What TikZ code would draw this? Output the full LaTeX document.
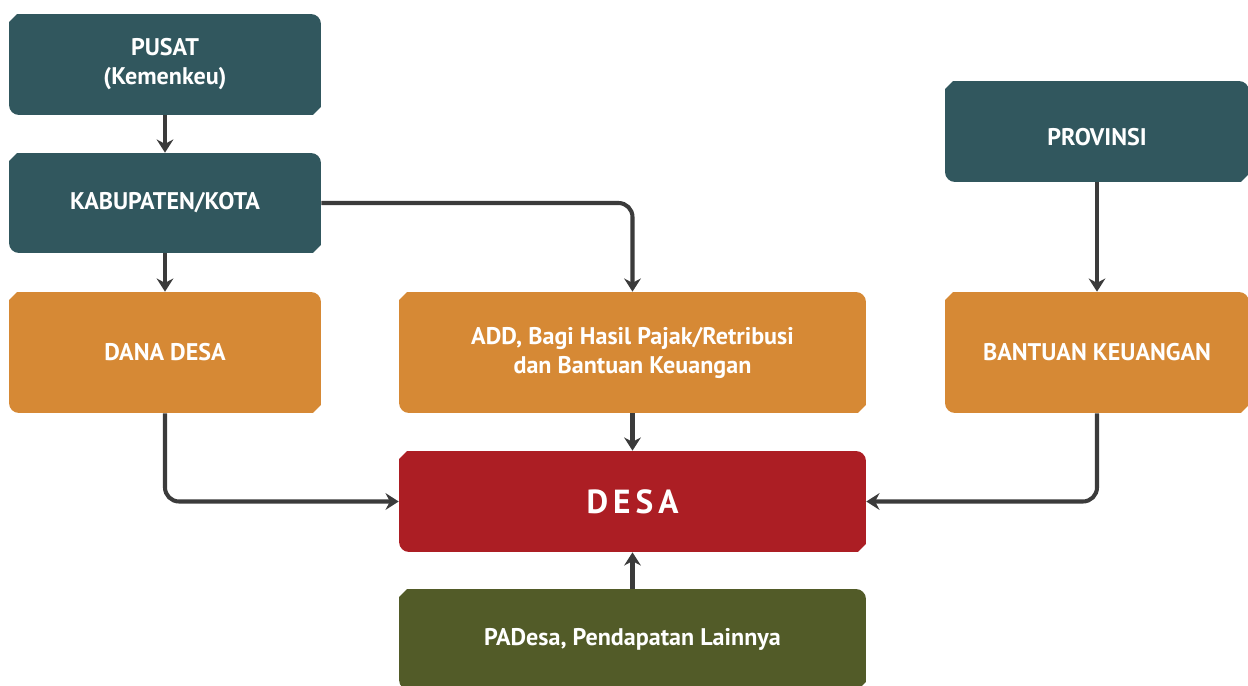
\documentclass[tikz,border=0pt]{standalone}
\usepackage{fontspec}
\setmainfont{PT Sans}
\newfontfamily\spacedfont[LetterSpace=15]{PT Sans}
\usetikzlibrary{arrows.meta}

\definecolor{govteal}{HTML}{31575E}
\definecolor{fundorange}{HTML}{D68935}
\definecolor{desared}{HTML}{AC1E24}
\definecolor{ownolive}{HTML}{525B28}
\definecolor{linkgray}{HTML}{3B3B3B}

\tikzset{
  % box with cut top-left / bottom-right corners, rounded others
  panel/.style={text=white, font=\fontsize{13.7}{16.5}\selectfont\bfseries,
    align=center, inner sep=0pt,
    path picture={
      \fill[#1] ([yshift=-0.16cm]path picture bounding box.north west)
        -- ([xshift=0.16cm]path picture bounding box.north west)
        -- ([xshift=-0.2cm]path picture bounding box.north east)
        arc[start angle=90, end angle=0, radius=0.2cm]
        -- ([yshift=0.16cm]path picture bounding box.south east)
        -- ([xshift=-0.16cm]path picture bounding box.south east)
        -- ([xshift=0.2cm]path picture bounding box.south west)
        arc[start angle=270, end angle=180, radius=0.2cm]
        -- cycle;
    }},
  link/.style={draw=linkgray, line width=2.3pt, rounded corners=0.28cm,
    -{Stealth[length=7.5pt, width=9.5pt, inset=2.5pt]}}
}

\begin{document}
\begin{tikzpicture}[x=0.02cm, y=-0.02cm]
	\path[use as bounding box, clip] (0,0) rectangle (1248,686);
	% left column
	\node[panel=govteal, minimum width=6.24cm, minimum height=2.02cm]
		(pusat) at (165,64.5) {PUSAT\\(Kemenkeu)};
	\node[panel=govteal, minimum width=6.24cm, minimum height=2cm]
		(kab) at (165,203) {KABUPATEN/KOTA};
	\node[panel=fundorange, minimum width=6.24cm, minimum height=2.42cm]
		(dana) at (165,352.5) {DANA DESA};
	% middle column
	\node[panel=fundorange, minimum width=9.34cm, minimum height=2.42cm]
		(add) at (632.5,352.5) {ADD, Bagi Hasil Pajak/Retribusi\\dan Bantuan Keuangan};
	\node[panel=desared, minimum width=9.34cm, minimum height=2.02cm,
		font=\fontsize{19}{22}\selectfont\spacedfont\bfseries]
		(desa) at (632.5,501.5) {DESA};
	\node[panel=ownolive, minimum width=9.34cm, minimum height=2.02cm]
		(padesa) at (632.5,639.5) {PADesa, Pendapatan Lainnya};
	% right column
	\node[panel=govteal, minimum width=6.08cm, minimum height=2.02cm,
		text height=0.55cm, text depth=0cm]
		(prov) at (1097,131.5) {PROVINSI};
	\node[panel=fundorange, minimum width=6.08cm, minimum height=2.42cm]
		(bantuan) at (1097,352.5) {BANTUAN KEUANGAN};

	% flows of funds
	\draw[link] (pusat) -- (kab);
	\draw[link] (kab) -- (dana);
	\draw[link] (kab.east) -- (kab.east -| add.north) -- (add.north);
	\draw[link] (prov) -- (bantuan);
	\draw[link] (add) -- (desa);
	\draw[link] (dana.south) -- (dana.south |- desa.west) -- (desa.west);
	\draw[link] (bantuan.south) -- (bantuan.south |- desa.east) -- (desa.east);
	\draw[link] (padesa) -- (desa);
\end{tikzpicture}
\end{document}
